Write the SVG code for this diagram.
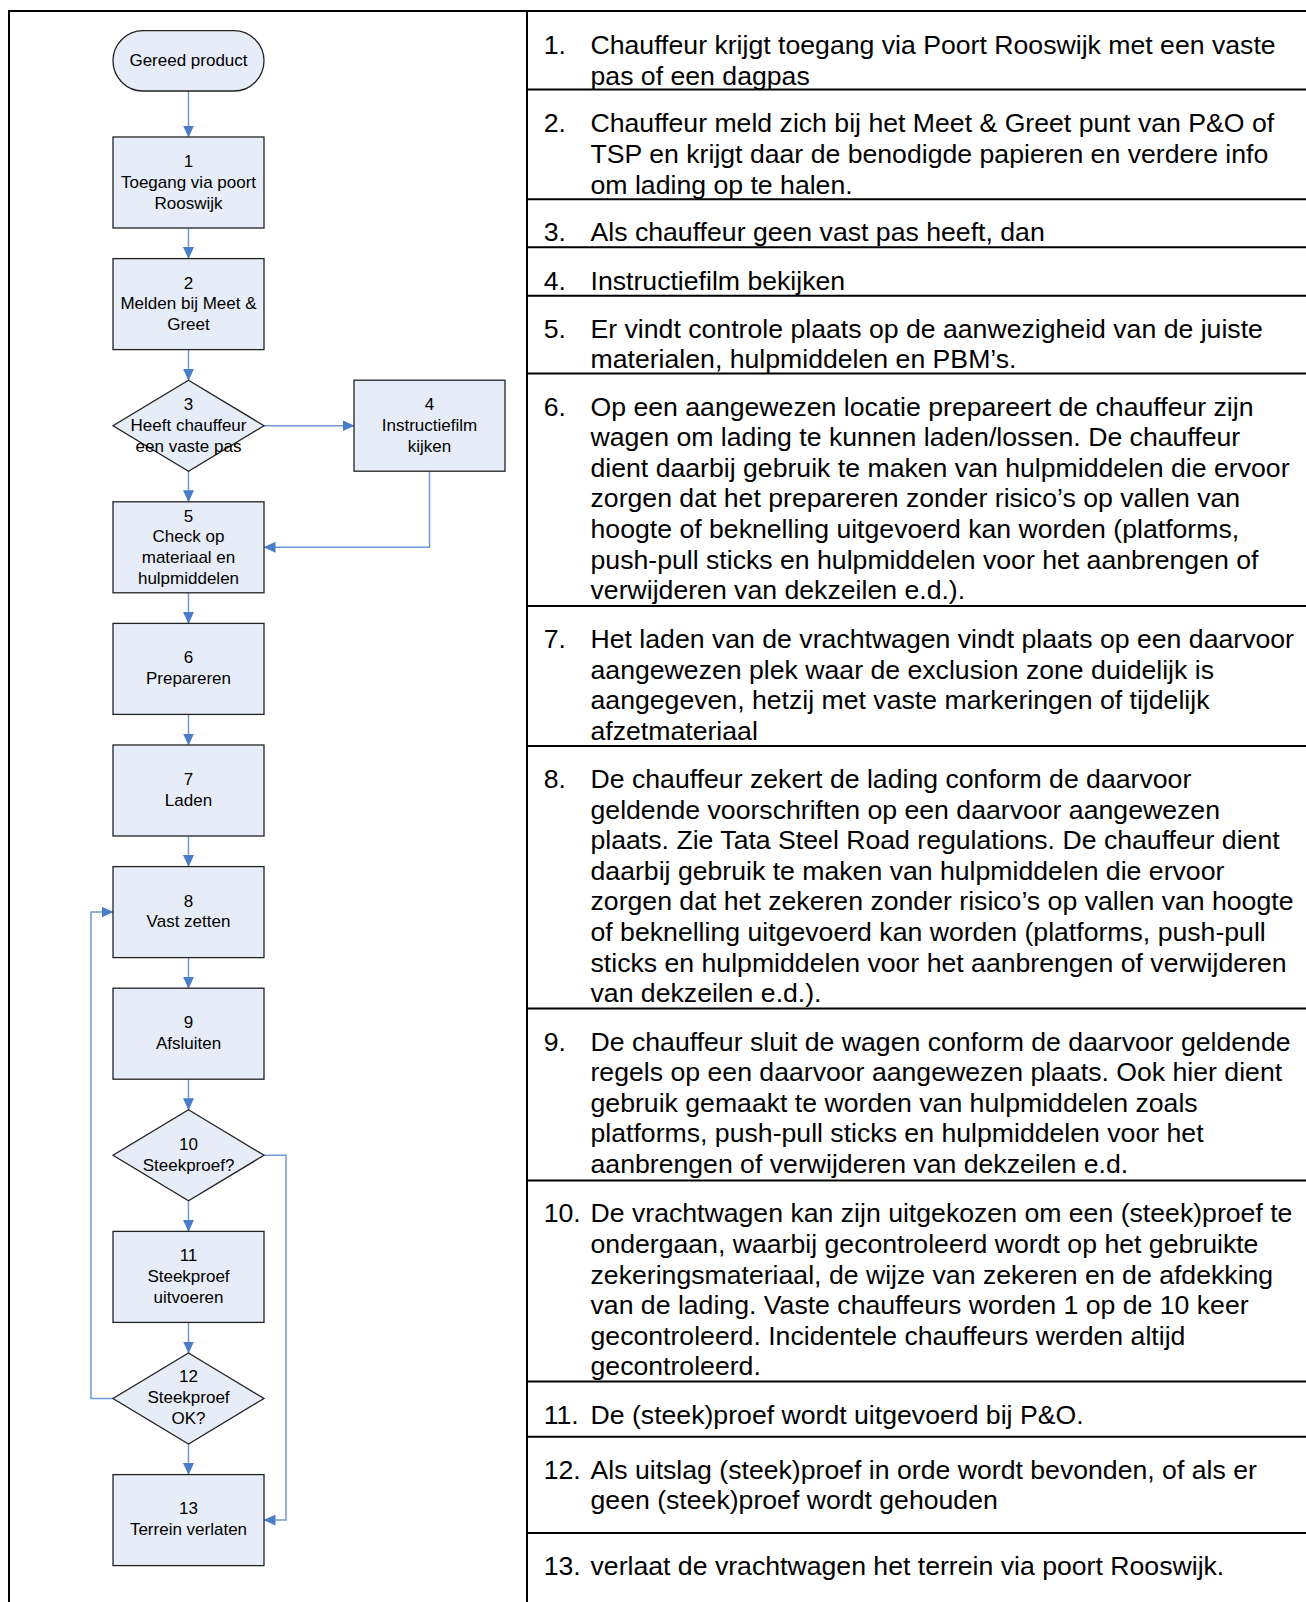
<svg xmlns="http://www.w3.org/2000/svg" width="1306" height="1602" viewBox="0 0 1306 1602">
<defs>
<marker id="ah" markerUnits="userSpaceOnUse" markerWidth="12" markerHeight="11" refX="11.5" refY="5.5" orient="auto">
<path d="M0,0 L12,5.5 L0,11 z" fill="#4a7cc7"/>
</marker>
<style>
.nd{fill:#e7edf8;stroke:#222;stroke-width:1.3}
.nt{font-family:"Liberation Sans",Arial,sans-serif;font-size:17px;fill:#000;text-anchor:middle}
.cn{fill:none;stroke:#6f98d8;stroke-width:1.5}
.ca{marker-end:url(#ah)}
.tb{stroke:#000;stroke-width:2;fill:none}
.rt{font-family:"Liberation Sans",Arial,sans-serif;font-size:26.65px;fill:#000}
</style>
</defs>
<rect width="1306" height="1602" fill="#fff"/>

<g id="table">
<path class="tb" d="M9,1602 V11 H1306 M527,11 V1602"/>
<path class="tb" d="M527,89.6 H1306 M527,199.3 H1306 M527,247.3 H1306 M527,295.8 H1306 M527,373.5 H1306 M527,606 H1306 M527,746 H1306 M527,1008.6 H1306 M527,1180.4 H1306 M527,1381.6 H1306 M527,1436.8 H1306 M527,1532.9 H1306"/>
</g>

<g id="connectors">
<path class="cn ca" d="M188.5,91 V137"/>
<path class="cn ca" d="M188.5,228 V258.6"/>
<path class="cn ca" d="M188.5,349.6 V380.2"/>
<path class="cn ca" d="M264,425.7 H354"/>
<path class="cn ca" d="M188.5,471.2 V501.8"/>
<path class="cn ca" d="M429.5,471.2 V547.3 H264"/>
<path class="cn ca" d="M188.5,592.8 V623.4"/>
<path class="cn ca" d="M188.5,714.4 V745"/>
<path class="cn ca" d="M188.5,836 V866.6"/>
<path class="cn ca" d="M188.5,957.6 V988.2"/>
<path class="cn ca" d="M188.5,1079.2 V1109.8"/>
<path class="cn ca" d="M188.5,1200.8 V1231.4"/>
<path class="cn ca" d="M188.5,1322.4 V1353"/>
<path class="cn ca" d="M188.5,1444 V1474.6"/>
<path class="cn ca" d="M113,1398.5 H91 V912.1 H113"/>
<path class="cn ca" d="M264,1155.3 H286 V1520.1 H264"/>
</g>

<g id="start">
<rect class="nd" x="113" y="30.7" width="151" height="60.3" rx="30.15"/>
<text class="nt" x="188.5" y="66">Gereed product</text>
</g>
<g id="n1">
<rect class="nd" x="113" y="137" width="151" height="91"/>
<text class="nt" x="188.5" y="167">1</text>
<text class="nt" x="188.5" y="187.8">Toegang via poort</text>
<text class="nt" x="188.5" y="208.6">Rooswijk</text>
</g>
<g id="n2">
<rect class="nd" x="113" y="258.6" width="151" height="91"/>
<text class="nt" x="188.5" y="288.6">2</text>
<text class="nt" x="188.5" y="309.4">Melden bij Meet &amp;</text>
<text class="nt" x="188.5" y="330.2">Greet</text>
</g>
<g id="n3">
<polygon class="nd" points="188.5,380.2 264,425.7 188.5,471.2 113,425.7"/>
<text class="nt" x="188.5" y="410.3">3</text>
<text class="nt" x="188.5" y="431.1">Heeft chauffeur</text>
<text class="nt" x="188.5" y="451.9">een vaste pas</text>
</g>
<g id="n4">
<rect class="nd" x="354" y="380.2" width="151" height="91"/>
<text class="nt" x="429.5" y="410.3">4</text>
<text class="nt" x="429.5" y="431.1">Instructiefilm</text>
<text class="nt" x="429.5" y="451.9">kijken</text>
</g>
<g id="n5">
<rect class="nd" x="113" y="501.8" width="151" height="91"/>
<text class="nt" x="188.5" y="521.5">5</text>
<text class="nt" x="188.5" y="542.3">Check op</text>
<text class="nt" x="188.5" y="563.1">materiaal en</text>
<text class="nt" x="188.5" y="583.9">hulpmiddelen</text>
</g>
<g id="n6">
<rect class="nd" x="113" y="623.4" width="151" height="91"/>
<text class="nt" x="188.5" y="663.4">6</text>
<text class="nt" x="188.5" y="684.2">Prepareren</text>
</g>
<g id="n7">
<rect class="nd" x="113" y="745" width="151" height="91"/>
<text class="nt" x="188.5" y="785">7</text>
<text class="nt" x="188.5" y="805.8">Laden</text>
</g>
<g id="n8">
<rect class="nd" x="113" y="866.6" width="151" height="91"/>
<text class="nt" x="188.5" y="906.6">8</text>
<text class="nt" x="188.5" y="927.4">Vast zetten</text>
</g>
<g id="n9">
<rect class="nd" x="113" y="988.2" width="151" height="91"/>
<text class="nt" x="188.5" y="1028.2">9</text>
<text class="nt" x="188.5" y="1049">Afsluiten</text>
</g>
<g id="n10">
<polygon class="nd" points="188.5,1109.8 264,1155.3 188.5,1200.8 113,1155.3"/>
<text class="nt" x="188.5" y="1149.8">10</text>
<text class="nt" x="188.5" y="1170.6">Steekproef?</text>
</g>
<g id="n11">
<rect class="nd" x="113" y="1231.4" width="151" height="91"/>
<text class="nt" x="188.5" y="1261">11</text>
<text class="nt" x="188.5" y="1281.8">Steekproef</text>
<text class="nt" x="188.5" y="1302.6">uitvoeren</text>
</g>
<g id="n12">
<polygon class="nd" points="188.5,1353 264,1398.5 188.5,1444 113,1398.5"/>
<text class="nt" x="188.5" y="1382.3">12</text>
<text class="nt" x="188.5" y="1403.1">Steekproef</text>
<text class="nt" x="188.5" y="1423.9">OK?</text>
</g>
<g id="n13">
<rect class="nd" x="113" y="1474.6" width="151" height="91"/>
<text class="nt" x="188.5" y="1514.4">13</text>
<text class="nt" x="188.5" y="1535.2">Terrein verlaten</text>
</g>

<g id="descriptions" class="rt">
<text x="543.7" y="54">1.</text>
<text x="590.5" y="54">Chauffeur krijgt toegang via Poort Rooswijk met een vaste</text>
<text x="590.5" y="84.6">pas of een dagpas</text>

<text x="543.7" y="132.3">2.</text>
<text x="590.5" y="132.3">Chauffeur meld zich bij het Meet &amp; Greet punt van P&amp;O of</text>
<text x="590.5" y="162.9">TSP en krijgt daar de benodigde papieren en verdere info</text>
<text x="590.5" y="193.5">om lading op te halen.</text>

<text x="543.7" y="240.7">3.</text>
<text x="590.5" y="240.7">Als chauffeur geen vast pas heeft, dan</text>

<text x="543.7" y="289.5">4.</text>
<text x="590.5" y="289.5">Instructiefilm bekijken</text>

<text x="543.7" y="337.8">5.</text>
<text x="590.5" y="337.8">Er vindt controle plaats op de aanwezigheid van de juiste</text>
<text x="590.5" y="368.4">materialen, hulpmiddelen en PBM’s.</text>

<text x="543.7" y="415.5">6.</text>
<text x="590.5" y="415.5">Op een aangewezen locatie prepareert de chauffeur zijn</text>
<text x="590.5" y="446.1">wagen om lading te kunnen laden/lossen. De chauffeur</text>
<text x="590.5" y="476.7">dient daarbij gebruik te maken van hulpmiddelen die ervoor</text>
<text x="590.5" y="507.3">zorgen dat het prepareren zonder risico’s op vallen van</text>
<text x="590.5" y="537.9">hoogte of beknelling uitgevoerd kan worden (platforms,</text>
<text x="590.5" y="568.5">push-pull sticks en hulpmiddelen voor het aanbrengen of</text>
<text x="590.5" y="599.1">verwijderen van dekzeilen e.d.).</text>

<text x="543.7" y="648">7.</text>
<text x="590.5" y="648">Het laden van de vrachtwagen vindt plaats op een daarvoor</text>
<text x="590.5" y="678.6">aangewezen plek waar de exclusion zone duidelijk is</text>
<text x="590.5" y="709.2">aangegeven, hetzij met vaste markeringen of tijdelijk</text>
<text x="590.5" y="739.8">afzetmateriaal</text>

<text x="543.7" y="788">8.</text>
<text x="590.5" y="788">De chauffeur zekert de lading conform de daarvoor</text>
<text x="590.5" y="818.6">geldende voorschriften op een daarvoor aangewezen</text>
<text x="590.5" y="849.2">plaats. Zie Tata Steel Road regulations. De chauffeur dient</text>
<text x="590.5" y="879.8">daarbij gebruik te maken van hulpmiddelen die ervoor</text>
<text x="590.5" y="910.4">zorgen dat het zekeren zonder risico’s op vallen van hoogte</text>
<text x="590.5" y="941">of beknelling uitgevoerd kan worden (platforms, push-pull</text>
<text x="590.5" y="971.6">sticks en hulpmiddelen voor het aanbrengen of verwijderen</text>
<text x="590.5" y="1002.2">van dekzeilen e.d.).</text>

<text x="543.7" y="1050.6">9.</text>
<text x="590.5" y="1050.6">De chauffeur sluit de wagen conform de daarvoor geldende</text>
<text x="590.5" y="1081.2">regels op een daarvoor aangewezen plaats. Ook hier dient</text>
<text x="590.5" y="1111.8">gebruik gemaakt te worden van hulpmiddelen zoals</text>
<text x="590.5" y="1142.4">platforms, push-pull sticks en hulpmiddelen voor het</text>
<text x="590.5" y="1173">aanbrengen of verwijderen van dekzeilen e.d.</text>

<text x="543.7" y="1222.4">10.</text>
<text x="590.5" y="1222.4">De vrachtwagen kan zijn uitgekozen om een (steek)proef te</text>
<text x="590.5" y="1253">ondergaan, waarbij gecontroleerd wordt op het gebruikte</text>
<text x="590.5" y="1283.6">zekeringsmateriaal, de wijze van zekeren en de afdekking</text>
<text x="590.5" y="1314.2">van de lading. Vaste chauffeurs worden 1 op de 10 keer</text>
<text x="590.5" y="1344.8">gecontroleerd. Incidentele chauffeurs werden altijd</text>
<text x="590.5" y="1375.4">gecontroleerd.</text>

<text x="543.7" y="1423.6">11.</text>
<text x="590.5" y="1423.6">De (steek)proef wordt uitgevoerd bij P&amp;O.</text>

<text x="543.7" y="1478.8">12.</text>
<text x="590.5" y="1478.8">Als uitslag (steek)proef in orde wordt bevonden, of als er</text>
<text x="590.5" y="1509.4">geen (steek)proef wordt gehouden</text>

<text x="543.7" y="1574.9">13.</text>
<text x="590.5" y="1574.9">verlaat de vrachtwagen het terrein via poort Rooswijk.</text>
</g>
</svg>
